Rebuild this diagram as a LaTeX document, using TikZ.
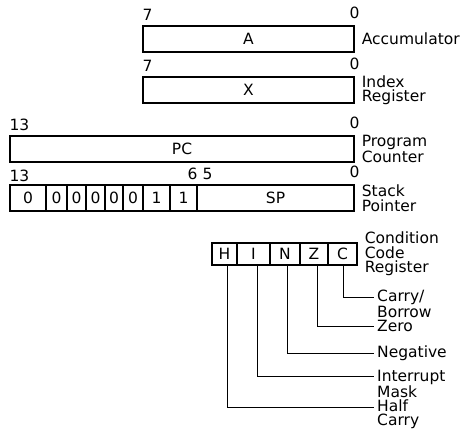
\documentclass[tikz,border=0pt]{standalone}
\usepackage{fontspec}
\setmainfont{DejaVu Sans}
\usetikzlibrary{positioning}

\begin{document}
\begin{tikzpicture}[
  x=1pt, y=-1pt,
  font=\fontsize{15.5}{14.5}\selectfont,
  reg/.style={draw, line width=1.3pt, minimum height=26pt, inner sep=0pt},
  cell/.style={draw, line width=1.3pt, minimum height=26pt, inner sep=0pt},
  flag/.style={draw, line width=1.3pt, minimum height=22pt, inner sep=0pt},
  bitno/.style={inner sep=0pt},
  regname/.style={align=left, inner xsep=3pt, inner ysep=0pt},
  lead/.style={line width=0.8pt},
  node distance=4pt
]
\useasboundingbox (0,0) rectangle (465,431);

% the registers
\node[reg, minimum width=211pt] (A) at (248.5,39) {A};
\node[reg, minimum width=211pt] (X) at (248.5,90) {X};
\node[reg, minimum width=344pt] (PC) at (182,149) {PC};
\foreach \l/\r/\b [count=\i] in {10/46/0,46/67/0,67/86/0,86/105/0,105/123/0,123/143/0,143/170/1,170/197/1}
  \node[cell, minimum width={\r-\l}] (sp\i) at ({(\l+\r)/2},198) {\b};
\node[cell, minimum width=157pt] (SP) at (275.5,198) {SP};

% bit numbers
\node[bitno, anchor=base west] at ([yshift=5pt]A.north west) {7};
\node[bitno, anchor=base] at ([yshift=7pt]A.north east) {0};
\node[bitno, anchor=base west] at ([yshift=5pt]X.north west) {7};
\node[bitno, anchor=base] at ([yshift=7pt]X.north east) {0};
\node[bitno, anchor=base west] at ([yshift=5pt]PC.north west) {13};
\node[bitno, anchor=base] at ([yshift=7pt]PC.north east) {0};
\node[bitno, anchor=base west] at ([yshift=3pt]sp1.north west) {13};
\node[bitno, anchor=base east] at ([yshift=5pt]sp8.north east) {6};
\node[bitno, anchor=base west] at ([xshift=6pt, yshift=5pt]SP.north west) {5};
\node[bitno, anchor=base] at ([yshift=7pt]SP.north east) {0};

\node[regname, right=of A] {Accumulator};
\node[regname, right=of X] {Index\\Register};
\node[regname, right=of PC] {Program\\Counter};
\node[regname, right=of SP] {Stack\\Pointer};

% condition code register
\foreach \f/\l/\r in {H/212/237,I/237/270,N/270/300,Z/300/328,C/328/357}
  \node[flag, minimum width={\r-\l}] (f\f) at ({(\l+\r)/2},254) {\f};
\node[regname, right=of fC] {Condition\\Code\\Register};

\node[regname, anchor=west] (tC) at (374,304) {Carry/\\Borrow};
\node[regname, anchor=west] (tZ) at (374,326) {Zero};
\node[regname, anchor=west] (tN) at (374,353) {Negative};
\node[regname, anchor=west] (tI) at (374,383.5) {Interrupt\\Mask};
\node[regname, anchor=west] (tH) at (374,414) {Half\\Carry};

\draw[lead] ([xshift=1pt]fC.south) |- ([yshift=7pt]tC.west);
\draw[lead] ([xshift=3pt]fZ.south) |- (tZ.west);
\draw[lead] ([xshift=2pt]fN.south) |- (tN.west);
\draw[lead] ([xshift=4pt]fI.south) |- ([yshift=7pt]tI.west);
\draw[lead] ([xshift=3pt]fH.south) |- ([yshift=7pt]tH.west);
\end{tikzpicture}
\end{document}
